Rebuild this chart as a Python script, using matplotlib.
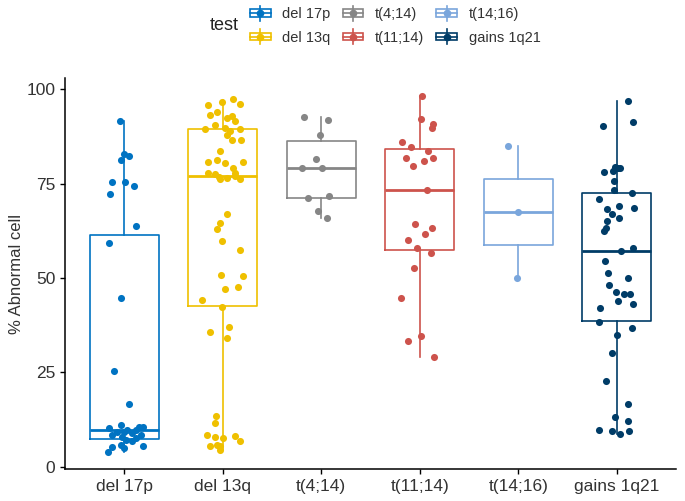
import matplotlib
matplotlib.use("Agg")
from matplotlib import pyplot as plt
from matplotlib.legend_handler import HandlerBase
from matplotlib.patches import Rectangle
from matplotlib.lines import Line2D

plt.rcParams['font.family'] = ['Liberation Sans', 'DejaVu Sans']

groups = ['del 17p', 'del 13q', 't(4;14)', 't(11;14)', 't(14;16)', 'gains 1q21']
colors = ['#0073C2', '#EFC000', '#868686', '#CD534C', '#7AA6DC', '#003C67']

# box stats
q1 = [7.3, 42.7, 71.3, 57.4, 58.8, 38.6]
med = [9.8, 77.0, 79.2, 73.4, 67.4, 57.3]
q3 = [61.4, 89.4, 86.3, 84.1, 76.2, 72.6]
whislo = [4.0, 4.3, 66.0, 29.0, 49.9, 8.6]
whishi = [91.6, 97.3, 92.6, 98.2, 85.0, 97.0]

# points (value) and their jitter offsets as seen in the picture
del17p = [91.7, 82.8, 82.4, 81.2, 75.5, 75.5, 74.5, 72.2, 63.7, 59.3, 44.6, 25.3, 16.6,
          11.1, 10.6, 10.6, 10.2, 9.8, 9.8, 9.3, 9.1, 8.9, 8.4, 8.4, 7.8, 7.6, 7.1, 6.9,
          5.8, 5.5, 5.3, 4.9, 4.0]
del17p_j = [-0.04, 0.0, 0.05, -0.03, -0.12, 0.01, 0.10, -0.14, 0.12, -0.15, -0.03, -0.10, 0.05,
            -0.03, 0.15, 0.19, -0.15, 0.03, 0.12, -0.07, 0.0, 0.08, -0.12, 0.17, -0.02, 0.12, 0.02, 0.08,
            -0.03, 0.19, -0.12, 0.0, -0.16]

del13q = [97.5, 96.7, 96.1, 95.8, 94.0, 93.3, 92.9, 92.4, 91.6, 90.7, 89.4, 89.8, 88.9, 89.4,
          88.0, 86.7, 86.7, 83.6, 81.4, 80.7, 80.6, 80.7, 79.1, 77.9, 77.5, 76.2, 76.6, 77.9,
          76.2, 76.9, 77.0,
          67.1, 64.7, 63.0, 59.9, 57.5, 50.9, 50.6, 47.1, 47.6, 44.1, 42.3,
          35.7, 37.0, 34.0,
          13.5, 11.5, 8.4, 7.8, 7.6, 8.2, 6.9, 5.4, 5.4, 4.3, 5.8]
del13q_j = [0.10, -0.01, 0.17, -0.15, -0.06, -0.13, 0.09, 0.04, 0.12, -0.08, -0.18, 0.02, 0.07, 0.17,
            0.04, 0.09, 0.19, -0.03, -0.06, -0.15, 0.02, 0.21, 0.10, -0.15, -0.08, -0.03, 0.04, 0.12,
            0.17, -0.04, 0.12,
            0.04, -0.03, -0.06, -0.01, 0.17, -0.02, 0.21, 0.02, 0.15, -0.21, -0.01,
            -0.13, 0.06, 0.04,
            -0.07, -0.08, -0.16, -0.08, 0.0, 0.12, 0.17, -0.13, -0.03, -0.03, -0.06]

t414 = [92.7, 91.9, 88.0, 81.6, 79.1, 79.2, 71.2, 71.8, 67.8, 66.0]
t414_j = [-0.18, 0.07, -0.01, -0.05, -0.20, 0.01, -0.14, 0.08, -0.03, 0.06]

t1114 = [98.4, 92.2, 90.9, 89.8, 86.0, 84.7, 83.6, 81.7, 81.0, 81.8, 79.8, 73.4, 64.4, 63.3,
         61.6, 60.2, 58.1, 56.6, 52.7, 44.7, 34.6, 33.4, 29.0]
t1114_j = [0.02, 0.01, 0.13, 0.12, -0.18, -0.09, 0.08, -0.14, 0.04, 0.13, -0.07, 0.07, -0.05, 0.12,
           0.05, -0.12, -0.03, 0.11, -0.06, -0.19, 0.01, -0.12, 0.14]

t1416 = [85.0, 67.4, 49.9]
t1416_j = [-0.11, 0.0, -0.01]

gains = [97.0, 90.4, 91.5, 78.0, 79.4, 79.1, 78.5, 79.1, 75.7, 73.4, 72.6, 71.0, 69.1, 68.7,
         68.3, 66.9, 66.0, 65.2, 63.4, 62.4, 58.1, 57.3, 54.5, 51.3, 50.1, 48.1, 46.2, 45.7,
         45.8, 43.9, 43.0, 42.1, 38.4, 36.8, 34.9, 30.1, 22.8, 16.7, 13.3, 12.1, 9.7, 9.5,
         8.6, 9.4]
gains_j = [0.11, -0.14, 0.16, -0.13, -0.02, 0.01, -0.04, 0.03, -0.03, -0.03, 0.15, -0.18, 0.02, 0.17,
           -0.10, -0.05, 0.02, -0.10, -0.11, -0.13, 0.16, 0.04, -0.12, -0.09, 0.11, -0.08, -0.01, 0.07,
           0.13, 0.01, 0.16, -0.17, -0.18, 0.15, 0.0, -0.05, -0.11, 0.11, -0.02, 0.11, -0.18, -0.05,
           0.03, 0.12]

points = [del17p, del13q, t414, t1114, t1416, gains]
jitter = [del17p_j, del13q_j, t414_j, t1114_j, t1416_j, gains_j]


# legend key: a tiny boxplot with a dot on it
class BoxKey(HandlerBase):
    def create_artists(self, legend, orig_handle, xdescent, ydescent, width, height,
                       fontsize, trans):
        c = orig_handle.get_color()
        x0, y0 = -xdescent, -ydescent
        cx, cy = x0 + width / 2, y0 + height / 2
        bw, bh = width * 0.95, height * 0.5
        box = Rectangle((cx - bw / 2, cy - bh / 2), bw, bh, fill=False,
                        edgecolor=c, lw=1.2, transform=trans)
        mid = Line2D([cx - bw / 2, cx + bw / 2], [cy, cy], color=c, lw=1.2, transform=trans)
        wt = Line2D([cx, cx], [cy + bh / 2, y0 + height], color=c, lw=1.2, transform=trans)
        wb = Line2D([cx, cx], [y0, cy - bh / 2], color=c, lw=1.2, transform=trans)
        dot = Line2D([cx], [cy], marker='o', ms=4.5, color=c, lw=0, transform=trans)
        return [box, mid, wt, wb, dot]


fig = plt.figure(figsize=(6.85, 5.01), dpi=100)
ax = fig.add_axes([0.095, 0.064, 0.892, 0.78])

pos = list(range(1, len(groups) + 1))
stats = [dict(med=m, q1=a, q3=b, whislo=lo, whishi=hi, fliers=[])
         for m, a, b, lo, hi in zip(med, q1, q3, whislo, whishi)]
bp = ax.bxp(stats, positions=pos, widths=0.7, showcaps=False, patch_artist=False)
for i, c in enumerate(colors):
    bp['boxes'][i].set(color=c, lw=1.2)
    bp['medians'][i].set(color=c, lw=2.0)
    for w in bp['whiskers'][2 * i:2 * i + 2]:
        w.set(color=c, lw=1.2)

for i, (vals, js) in enumerate(zip(points, jitter)):
    xs = [pos[i] + j for j in js]
    ax.scatter(xs, vals, s=26, color=colors[i], zorder=3, linewidths=0)

ax.set_xlim(0.4, 6.6)
ax.set_ylim(-0.6, 103)
ax.set_xticks(pos)
ax.set_xticklabels(groups)
ax.set_yticks([0, 25, 50, 75, 100])
ax.tick_params(labelsize=12.5, labelcolor='#333333', length=3.5, width=1, color='black')
for s in ['top', 'right']:
    ax.spines[s].set_visible(False)
for s in ['left', 'bottom']:
    ax.spines[s].set_linewidth(1.1)
ax.set_ylabel('% Abnormal cell', fontsize=12, color='#333333', labelpad=2)

handles = [Line2D([], [], color=c) for c in colors]
leg = fig.legend(handles, groups, handler_map={Line2D: BoxKey()}, ncol=3, frameon=False,
                 loc='upper left', bbox_to_anchor=(0.349, 1.009), fontsize=10.5,
                 handlelength=1.5, handleheight=1.2, columnspacing=0.8, handletextpad=0.75,
                 labelspacing=0.56, borderpad=0.2)
for t in leg.get_texts():
    t.set_color('#333333')
fig.text(0.306, 0.95, 'test', fontsize=13, color='#222222', va='center', ha='left')

fig.savefig('out.png', dpi=100)
